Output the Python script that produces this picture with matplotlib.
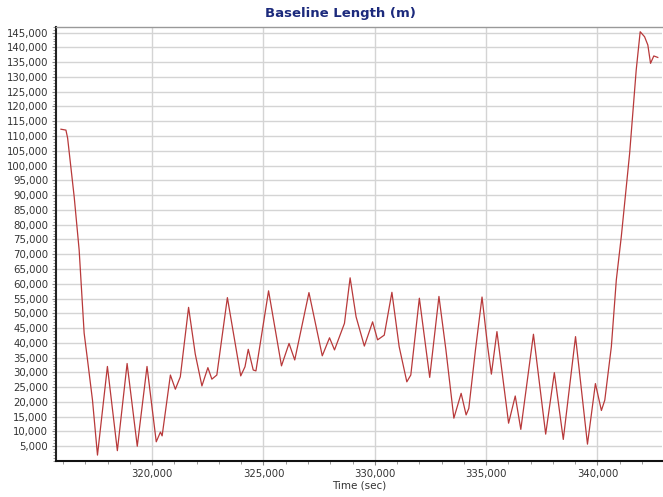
import matplotlib
matplotlib.use("Agg")
import matplotlib.pyplot as plt
from matplotlib.ticker import MultipleLocator, FuncFormatter

time_sec = [315903, 316126, 316202, 316497, 316720, 316944, 317096, 317319, 317543,
            317989, 318436, 318874, 319330, 319768, 320183, 320371, 320447, 320818,
            321041, 321264, 321635, 321935, 322234, 322502, 322681, 322904, 323378,
            323977, 324169, 324316, 324539, 324660, 325228, 325808, 326148, 326403,
            327042, 327640, 327966, 328190, 328637, 328891, 329159, 329530, 329901,
            330124, 330424, 330768, 331094, 331438, 331617, 332001, 332466, 332881,
            333194, 333551, 333878, 334101, 334222, 334521, 334816, 335070, 335236,
            335486, 336009, 336308, 336558, 337126, 337675, 338064, 338466, 339016,
            339552, 339909, 340178, 340330, 340625, 340848, 341071, 341446, 341741,
            341920, 342117, 342264, 342385, 342532, 342711]
baseline_m = [112300, 112000, 109300, 89400, 71400, 43300, 34200, 20600, 2000,
              32000, 3500, 33000, 5000, 32000, 6500, 9800, 8500, 29100,
              24300, 28500, 52000, 36200, 25400, 31600, 27700, 29100, 55300,
              28800, 31900, 37800, 30800, 30500, 57600, 32200, 39800, 34200,
              57000, 35600, 41700, 37600, 46600, 62000, 48800, 38900, 47100,
              41000, 42600, 57100, 38700, 26800, 29100, 55100, 28300, 55700,
              37600, 14500, 22900, 15600, 17800, 37600, 55500, 38700, 29400,
              43800, 12800, 22000, 10700, 42900, 9100, 29900, 7300, 42100,
              5700, 26200, 17100, 20600, 38700, 61300, 75900, 104100, 132300,
              145300, 143600, 140800, 134600, 137100, 136600]

title = "Baseline Length (m)"
xlabel = "Time (sec)"

fig = plt.figure(figsize=(6.63, 4.97), dpi=100)
ax = fig.add_axes([56/663, 1-461/497, (662-56)/663, (461-26.7)/497])

ax.plot(time_sec, baseline_m, color="#b8393a", lw=0.9)

ax.set_xlim(315680, 342900)
ax.set_ylim(0, 147000)

ax.xaxis.set_major_locator(MultipleLocator(5000))
ax.xaxis.set_minor_locator(MultipleLocator(1000))
ax.yaxis.set_major_locator(MultipleLocator(5000))
ax.yaxis.set_minor_locator(MultipleLocator(1000))
fmt = FuncFormatter(lambda v, p: f"{int(round(v)):,}")
ax.xaxis.set_major_formatter(fmt)
ax.yaxis.set_major_formatter(fmt)
ax.set_yticks([v for v in range(5000, 146000, 5000)])

ax.grid(True, which="major", color="#d4d4d4", lw=1.0)
ax.set_axisbelow(True)

for s in ["right"]:
    ax.spines[s].set_visible(False)
ax.spines["top"].set_color("#999999")
ax.spines["top"].set_linewidth(1.0)
ax.spines["left"].set_linewidth(1.5)
ax.spines["bottom"].set_linewidth(1.5)
ax.spines["left"].set_color("#222222")
ax.spines["bottom"].set_color("#111111")

ax.tick_params(axis="both", which="major", labelsize=7.3, labelcolor="#333333",
               length=3, width=0.8, color="#888888", pad=2.5)
ax.tick_params(axis="both", which="minor", length=2, width=0.6, color="#888888")

ax.set_xlabel(xlabel, fontsize=7.5, color="#333333", labelpad=1)
fig.text(340/663, 1-14/497, title, ha="center", va="center",
         fontsize=9.5, fontweight="bold", color="#1c2a7c")

fig.savefig("out.png", dpi=100)
